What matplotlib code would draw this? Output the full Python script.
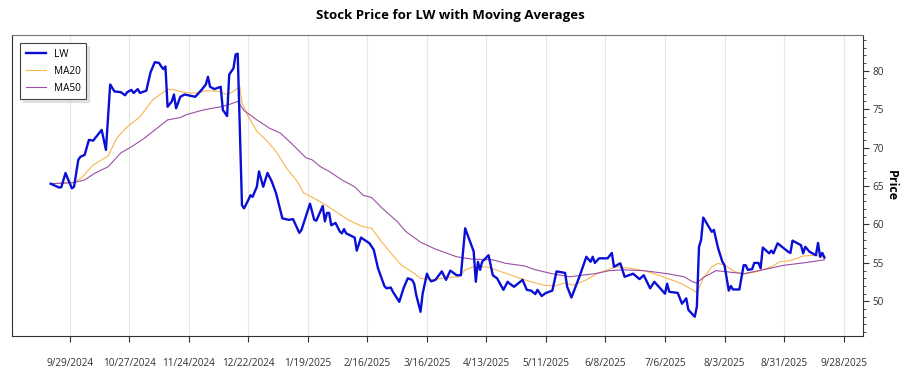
import matplotlib
matplotlib.use("Agg")
import matplotlib.pyplot as plt
import pandas as pd
import numpy as np
from matplotlib.ticker import MultipleLocator

# LW close at each visible turn of the line
lw_dates = [
    "2024-09-20", "2024-09-24", "2024-09-25", "2024-09-27", "2024-09-28", "2024-09-30",
    "2024-10-01", "2024-10-03", "2024-10-04", "2024-10-06", "2024-10-08", "2024-10-10",
    "2024-10-14", "2024-10-16", "2024-10-18", "2024-10-20", "2024-10-23", "2024-10-25",
    "2024-10-26", "2024-10-28", "2024-10-29", "2024-10-31", "2024-11-01", "2024-11-04",
    "2024-11-06", "2024-11-08", "2024-11-10", "2024-11-11", "2024-11-12", "2024-11-13",
    "2024-11-14", "2024-11-16", "2024-11-17", "2024-11-18", "2024-11-20", "2024-11-22",
    "2024-11-27", "2024-11-30", "2024-12-02", "2024-12-03", "2024-12-04", "2024-12-06",
    "2024-12-09", "2024-12-10", "2024-12-12", "2024-12-13", "2024-12-15", "2024-12-16",
    "2024-12-17", "2024-12-19", "2024-12-20", "2024-12-22", "2024-12-23", "2024-12-24",
    "2024-12-26", "2024-12-27", "2024-12-29", "2024-12-31", "2025-01-02", "2025-01-04",
    "2025-01-07", "2025-01-10", "2025-01-12", "2025-01-15", "2025-01-16", "2025-01-20",
    "2025-01-22", "2025-01-23", "2025-01-26", "2025-01-27", "2025-01-28", "2025-01-29",
    "2025-01-30", "2025-02-01", "2025-02-03", "2025-02-04", "2025-02-05", "2025-02-06",
    "2025-02-10", "2025-02-11", "2025-02-13", "2025-02-17", "2025-02-19", "2025-02-21",
    "2025-02-24", "2025-02-25", "2025-02-27", "2025-02-28", "2025-03-03", "2025-03-05",
    "2025-03-07", "2025-03-09", "2025-03-10", "2025-03-11", "2025-03-13", "2025-03-14",
    "2025-03-16", "2025-03-17", "2025-03-18", "2025-03-20", "2025-03-23", "2025-03-25",
    "2025-03-27", "2025-03-30", "2025-04-01", "2025-04-03", "2025-04-07", "2025-04-08",
    "2025-04-09", "2025-04-10", "2025-04-11", "2025-04-14", "2025-04-16", "2025-04-18",
    "2025-04-21", "2025-04-23", "2025-04-24", "2025-04-26", "2025-04-30", "2025-05-02",
    "2025-05-04", "2025-05-06", "2025-05-07", "2025-05-09", "2025-05-11", "2025-05-14",
    "2025-05-16", "2025-05-20", "2025-05-21", "2025-05-23", "2025-05-27", "2025-05-30",
    "2025-06-01", "2025-06-02", "2025-06-03", "2025-06-05", "2025-06-09", "2025-06-11",
    "2025-06-12", "2025-06-15", "2025-06-17", "2025-06-21", "2025-06-24", "2025-06-26",
    "2025-06-29", "2025-07-01", "2025-07-06", "2025-07-07", "2025-07-08", "2025-07-12",
    "2025-07-14", "2025-07-16", "2025-07-17", "2025-07-20", "2025-07-21", "2025-07-22",
    "2025-07-23", "2025-07-24", "2025-07-27", "2025-07-28", "2025-07-29", "2025-07-31",
    "2025-08-02", "2025-08-03", "2025-08-05", "2025-08-06", "2025-08-07", "2025-08-10",
    "2025-08-12", "2025-08-13", "2025-08-14", "2025-08-16", "2025-08-17", "2025-08-19",
    "2025-08-20", "2025-08-21", "2025-08-24", "2025-08-25", "2025-08-26", "2025-08-28",
    "2025-08-30", "2025-09-02", "2025-09-03", "2025-09-04", "2025-09-06", "2025-09-08",
    "2025-09-09", "2025-09-10", "2025-09-12", "2025-09-13", "2025-09-15", "2025-09-16",
    "2025-09-17", "2025-09-18", "2025-09-19",
]
lw_close = [
    65.3, 64.8, 64.85, 66.7, 66.0, 64.7,
    64.9, 68.4, 68.8, 69.05, 71.0, 70.9,
    72.3, 69.7, 78.2, 77.3, 77.2, 76.8,
    77.2, 77.5, 77.1, 77.6, 77.1, 77.4,
    79.8, 81.1, 81.0, 80.55, 80.2, 80.55,
    75.3, 76.0, 76.9, 75.1, 76.6, 76.9,
    76.6, 77.5, 78.2, 79.2, 77.9, 77.6,
    77.9, 74.9, 74.1, 79.5, 80.3, 82.1,
    82.2, 62.5, 62.1, 63.2, 63.8, 63.6,
    64.9, 66.9, 64.9, 66.7, 65.6, 64.1,
    60.8, 60.6, 60.7, 58.9, 59.3, 62.7,
    60.6, 60.5, 62.4, 60.4, 61.5, 61.5,
    59.9, 60.2, 59.1, 58.85, 59.4, 58.85,
    58.3, 56.6, 58.3, 57.55, 56.7, 54.3,
    52.0, 51.7, 51.8, 51.25, 49.95, 51.7,
    53.0, 52.8, 52.3, 50.8, 48.65, 51.0,
    53.6, 53.0, 52.6, 52.8, 53.9, 52.8,
    54.0, 53.4, 53.4, 59.5, 56.5, 52.55,
    55.15, 54.1, 55.15, 56.0, 53.4, 53.0,
    51.5, 52.55, 52.3, 51.9, 52.8, 51.5,
    51.4, 50.95, 51.5, 50.7, 51.1, 51.4,
    53.9, 53.7, 51.9, 50.5, 53.4, 55.8,
    55.15, 55.8, 55.0, 55.6, 55.6, 56.3,
    54.5, 54.95, 53.2, 53.6, 52.9, 53.4,
    51.7, 52.55, 51.0, 52.3, 51.25, 51.1,
    49.7, 50.4, 48.9, 48.0, 49.3, 57.1,
    58.0, 60.9, 59.5, 59.05, 59.3, 56.9,
    55.15, 54.7, 51.4, 52.0, 51.55, 51.55,
    54.7, 54.7, 54.1, 54.2, 55.0, 55.0,
    54.3, 57.0, 56.25, 56.6, 56.25, 57.55,
    57.1, 56.45, 56.3, 57.9, 57.6, 57.3,
    56.25, 57.1, 56.45, 56.3, 56.0, 57.6,
    55.8, 56.3, 55.7,
]

ma20_dates = [
    "2024-09-20", "2024-10-01", "2024-10-05", "2024-10-10", "2024-10-17", "2024-10-21",
    "2024-10-26", "2024-11-01", "2024-11-07", "2024-11-14", "2024-11-17", "2024-11-20",
    "2024-11-24", "2024-11-28", "2024-12-02", "2024-12-08", "2024-12-12", "2024-12-15",
    "2024-12-18", "2024-12-19", "2024-12-22", "2024-12-26", "2024-12-31", "2025-01-04",
    "2025-01-09", "2025-01-14", "2025-01-17", "2025-01-22", "2025-01-27", "2025-02-01",
    "2025-02-07", "2025-02-13", "2025-02-18", "2025-02-22", "2025-02-27", "2025-03-04",
    "2025-03-09", "2025-03-13", "2025-03-19", "2025-03-25", "2025-03-31", "2025-04-03",
    "2025-04-07", "2025-04-13", "2025-04-20", "2025-05-01", "2025-05-10", "2025-05-15",
    "2025-05-20", "2025-05-24", "2025-05-30", "2025-06-04", "2025-06-09", "2025-06-13",
    "2025-06-20", "2025-06-28", "2025-07-05", "2025-07-13", "2025-07-19", "2025-07-21",
    "2025-07-24", "2025-07-28", "2025-07-31", "2025-08-03", "2025-08-08", "2025-08-12",
    "2025-08-18", "2025-08-25", "2025-08-29", "2025-09-03", "2025-09-09", "2025-09-15",
    "2025-09-19",
]
ma20 = [
    65.3, 65.45, 66.2, 67.75, 68.9, 71.2,
    72.7, 74.0, 76.2, 77.6, 77.5, 77.3,
    77.1, 77.1, 77.4, 77.3, 76.9, 77.3,
    77.95, 75.8, 74.0, 72.1, 70.8, 69.5,
    67.3, 65.6, 64.1, 63.4, 62.6, 61.7,
    60.6, 59.8, 59.5, 58.0, 56.3, 54.7,
    53.85, 53.0, 52.8, 53.1, 53.2, 54.1,
    54.5, 54.5, 53.85, 52.8, 52.1, 52.0,
    52.4, 52.1, 52.8, 53.6, 54.1, 54.5,
    54.3, 53.85, 53.2, 52.4, 51.5, 51.1,
    53.0, 54.5, 54.95, 54.7, 53.85, 53.55,
    53.85, 54.5, 55.15, 55.3, 55.9, 56.0,
    55.7,
]

ma50_dates = [
    "2024-09-20", "2024-10-01", "2024-10-06", "2024-10-11", "2024-10-17", "2024-10-23",
    "2024-10-28", "2024-11-03", "2024-11-09", "2024-11-14", "2024-11-20", "2024-11-23",
    "2024-12-01", "2024-12-09", "2024-12-13", "2024-12-17", "2024-12-20", "2024-12-26",
    "2025-01-01", "2025-01-06", "2025-01-12", "2025-01-18", "2025-01-21", "2025-01-25",
    "2025-01-29", "2025-02-04", "2025-02-10", "2025-02-14", "2025-02-18", "2025-02-23",
    "2025-03-02", "2025-03-06", "2025-03-13", "2025-03-20", "2025-03-30", "2025-04-06",
    "2025-04-16", "2025-04-22", "2025-05-01", "2025-05-05", "2025-05-10", "2025-05-14",
    "2025-05-22", "2025-06-03", "2025-06-10", "2025-06-16", "2025-06-26", "2025-07-07",
    "2025-07-15", "2025-07-19", "2025-07-21", "2025-07-24", "2025-07-30", "2025-08-04",
    "2025-08-12", "2025-08-21", "2025-08-31", "2025-09-09", "2025-09-19",
]
ma50 = [
    65.3, 65.45, 65.8, 66.7, 67.5, 69.3,
    70.1, 71.2, 72.5, 73.6, 73.9, 74.3,
    74.9, 75.3, 75.6, 76.0, 74.8, 73.6,
    72.5, 71.9, 70.35, 68.7, 68.4, 67.5,
    66.9, 65.8, 64.9, 63.8, 63.5, 62.1,
    60.4, 59.1, 57.7, 56.8, 55.8, 55.5,
    55.4, 54.95, 54.6, 54.2, 53.85, 53.6,
    53.2, 53.6, 54.0, 54.1, 54.0, 53.6,
    53.2, 52.55, 52.4, 53.1, 54.0, 53.85,
    53.6, 54.1, 54.7, 55.0, 55.4,
]

tick_labels = ["9/29/2024", "10/27/2024", "11/24/2024", "12/22/2024", "1/19/2025",
               "2/16/2025", "3/16/2025", "4/13/2025", "5/11/2025", "6/8/2025",
               "7/6/2025", "8/3/2025", "8/31/2025", "9/28/2025"]

plt.rcParams['font.family'] = ['Open Sans', 'DejaVu Sans']

fig = plt.figure(figsize=(9, 3.75), dpi=100)
ax = fig.add_axes([0.0133, 0.104, 0.9457, 0.804])

ax.plot(pd.to_datetime(lw_dates), lw_close, color='#0a0fd6', lw=1.7, label='LW', zorder=3)
ax.plot(pd.to_datetime(ma20_dates), ma20, color='#f7b64e', lw=0.8, label='MA20', zorder=2)
ax.plot(pd.to_datetime(ma50_dates), ma50, color='#9b4fa3', lw=0.8, label='MA50', zorder=2)

ax.set_ylim(45.5, 84.7)
ax.set_xticks(pd.to_datetime(tick_labels, format='%m/%d/%Y'))
ax.set_xticklabels(tick_labels)
ax.grid(axis='x', color='#e6e6e6', lw=0.8)
ax.set_axisbelow(True)

ax.yaxis.tick_right()
ax.yaxis.set_label_position('right')
ax.yaxis.set_major_locator(MultipleLocator(5))
ax.yaxis.set_minor_locator(MultipleLocator(1))
ax.tick_params(axis='x', labelsize=7.2, colors='#333333', length=4, pad=12)
ax.tick_params(axis='y', which='major', labelsize=7.2, colors='#333333', length=4, pad=3)
ax.tick_params(axis='y', which='minor', length=2, colors='#333333')
ax.set_ylabel('Price', fontsize=9, fontweight='bold', rotation=270, labelpad=10)

for side in ['left', 'bottom', 'right']:
    ax.spines[side].set_color('#333333')
ax.spines['top'].set_color('#777777')

leg = ax.legend(loc='upper left', bbox_to_anchor=(0.004, 0.988), fontsize=7.2,
                frameon=True, fancybox=False, shadow={'color': '#c8c8c8'},
                edgecolor='#444444', handlelength=2.0, borderpad=0.55,
                labelspacing=0.6)
leg.get_frame().set_linewidth(0.8)

fig.suptitle('Stock Price for LW with Moving Averages', fontsize=9.5,
             fontweight='bold', x=0.5, y=0.977)

fig.savefig('out.png', dpi=100)
